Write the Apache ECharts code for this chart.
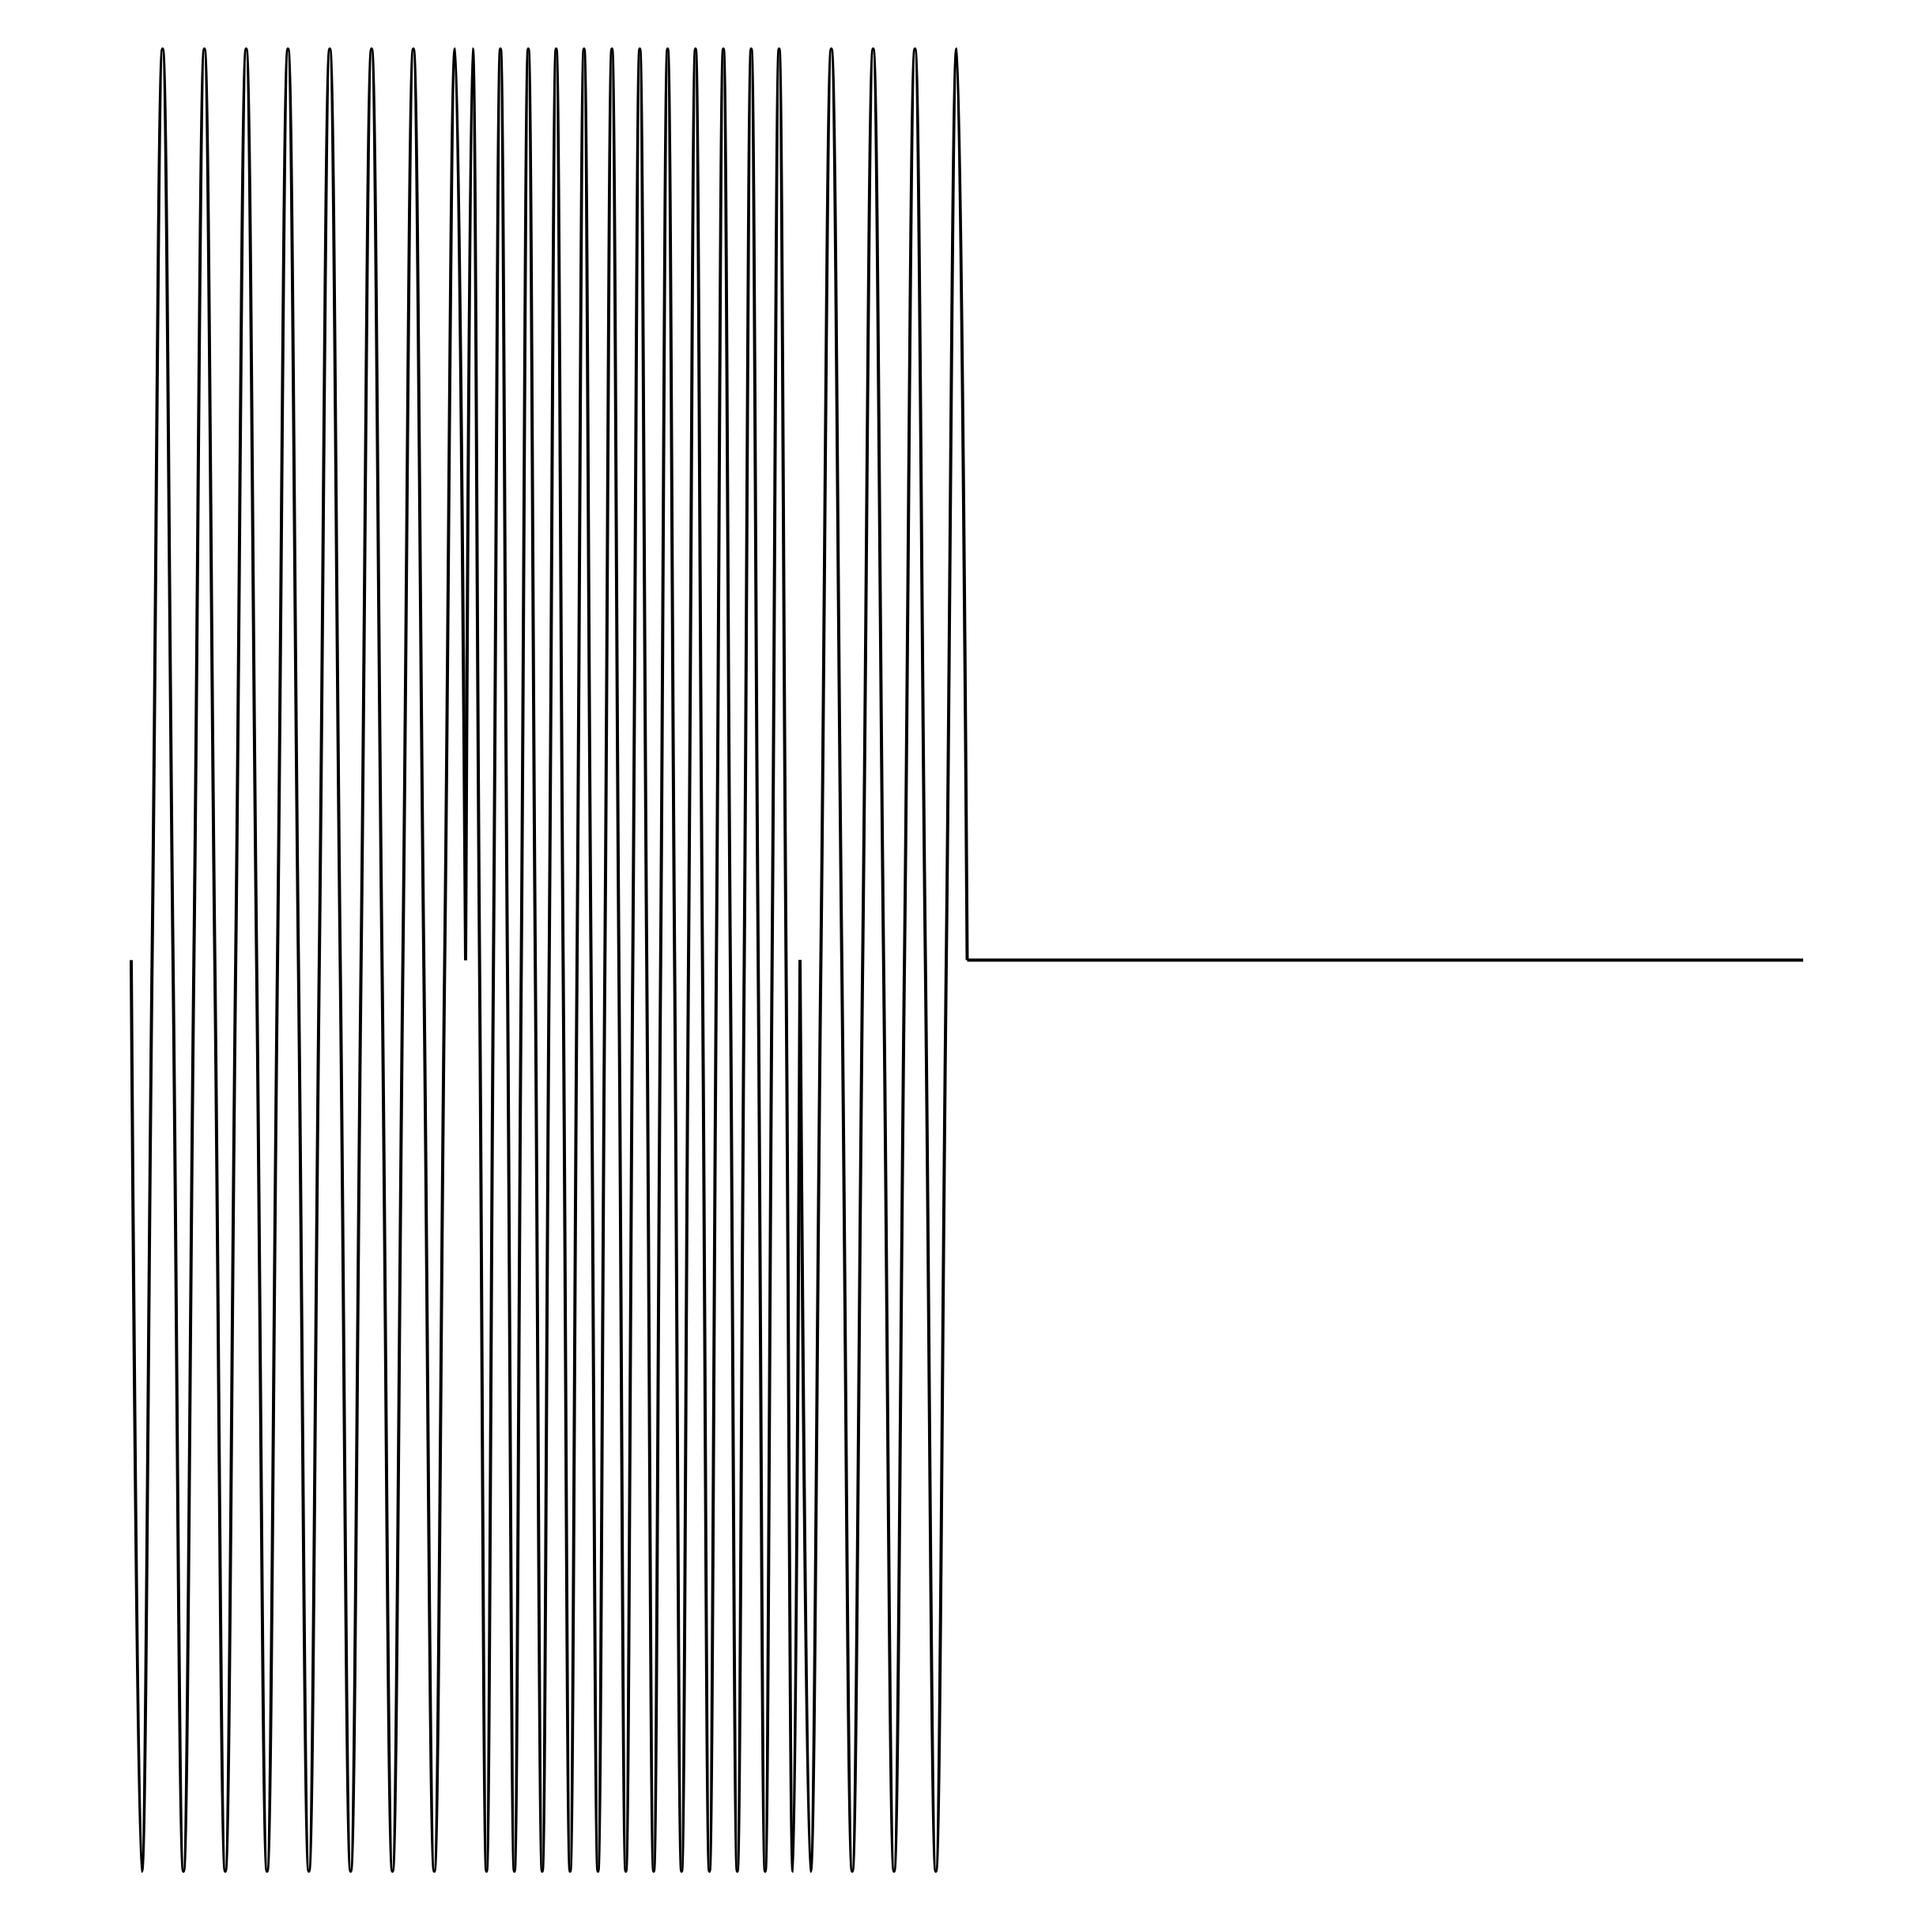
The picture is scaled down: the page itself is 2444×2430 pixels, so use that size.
<!DOCTYPE html>
<html>
<head>
<meta charset="utf-8">
<script src="https://cdn.jsdelivr.net/npm/echarts@6/dist/echarts.min.js"></script>
<style>
    body { margin: 0; background: #fff; }
</style>
</head>
<body>
<div id="wavechart" style="width: 2444px;height: 2430px;"></div>

<script type="text/javascript">
    // peaks, troughs and zero crossings (time, amplitude)
    var seg1_t = [0, 0.0625, 0.125, 0.1875, 0.25, 0.3125, 0.375, 0.4375, 0.5, 0.5625, 0.625, 0.6875,
        0.75, 0.8125, 0.875, 0.9375, 1, 1.0625, 1.125, 1.1875, 1.25, 1.3125, 1.375, 1.4375,
        1.5, 1.5625, 1.625, 1.6875, 1.75, 1.8125, 1.875, 1.9375, 2];
    var seg1_v = [0, -1, 0, 1, 0, -1, 0, 1, 0, -1, 0, 1, 0, -1, 0, 1, 0, -1, 0, 1, 0, -1, 0, 1,
        0, -1, 0, 1, 0, -1, 0, 1, 0];

    var seg2_t = [2, 2.0417, 2.0833, 2.125, 2.1667, 2.2083, 2.25, 2.2917, 2.3333, 2.375, 2.4167, 2.4583,
        2.5, 2.5417, 2.5833, 2.625, 2.6667, 2.7083, 2.75, 2.7917, 2.8333, 2.875, 2.9167, 2.9583,
        3, 3.0417, 3.0833, 3.125, 3.1667, 3.2083, 3.25, 3.2917, 3.3333, 3.375, 3.4167, 3.4583,
        3.5, 3.5417, 3.5833, 3.625, 3.6667, 3.7083, 3.75, 3.7917, 3.8333, 3.875, 3.9167, 3.9583, 4];
    var seg2_v = [0, 1, 0, -1, 0, 1, 0, -1, 0, 1, 0, -1, 0, 1, 0, -1, 0, 1, 0, -1, 0, 1, 0, -1,
        0, 1, 0, -1, 0, 1, 0, -1, 0, 1, 0, -1, 0, 1, 0, -1, 0, 1, 0, -1, 0, 1, 0, -1, 0];

    var seg3_t = [4, 4.0625, 4.125, 4.1875, 4.25, 4.3125, 4.375, 4.4375, 4.5, 4.5625, 4.625, 4.6875,
        4.75, 4.8125, 4.875, 4.9375, 5];
    var seg3_v = [0, -1, 0, 1, 0, -1, 0, 1, 0, -1, 0, 1, 0, -1, 0, 1, 0];

    var flat_t = [5, 10];
    var flat_v = [0, 0];

    function pairs(ts, vs){
        var out = [];
        for(var i = 0; i < ts.length; i++){
            out.push([ts[i], vs[i]]);
        }
        return out;
    }

    function waveSeries(ts, vs){
        return {
            type: 'line',
            data: pairs(ts, vs),
            smooth: 0.42,
            showSymbol: false,
            clip: false,
            lineStyle: { color: '#000', width: 4, cap: 'butt', join: 'round' }
        };
    }

    var chart = echarts.init(document.getElementById("wavechart"));
    var option = {
        animation: false,
        backgroundColor: '#fff',
        grid: { left: 166, right: 163, top: 62, bottom: 63 },
        xAxis: { type: 'value', min: 0, max: 10, show: false },
        yAxis: { type: 'value', min: -1, max: 1, show: false },
        series: [
            waveSeries(seg1_t, seg1_v),
            waveSeries(seg2_t, seg2_v),
            waveSeries(seg3_t, seg3_v),
            waveSeries(flat_t, flat_v)
        ]
    };
    chart.setOption(option);
</script>
</body>
</html>
